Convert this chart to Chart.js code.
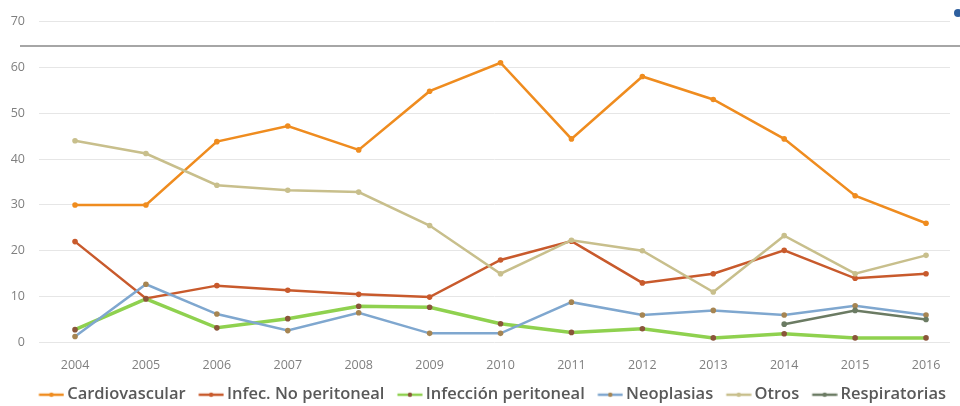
<!DOCTYPE html>
<html>
<head>
<meta charset="utf-8">
<script src="https://cdn.jsdelivr.net/npm/chart.js@4"></script>
<style>
	html, body { margin: 0; padding: 0; background: #fff; }
	#wrap { position: relative; width: 960px; height: 406px; overflow: hidden; }
	#chart { display: block; }
	#rule { position: absolute; left: 20px; width: 940px; top: 45px; border-top: 2px solid #a6a6a6; }
	#dot { position: absolute; left: 954px; top: 9px; width: 8px; height: 8px; border-radius: 50%; background: #2e5f9e; }
</style>
</head>
<body>
<div id="wrap">
	<canvas id="chart" width="960" height="406"></canvas>
	<div id="rule"></div>
	<div id="dot"></div>
</div>
<script>
const years = [2004, 2005, 2006, 2007, 2008, 2009, 2010, 2011, 2012, 2013, 2014, 2015, 2016];
const yTicks = [0, 10, 20, 30, 40, 50, 60, 70];

const seriesNames = ['Cardiovascular', 'Infec. No peritoneal', 'Infección peritoneal', 'Neoplasias', 'Otros', 'Respiratorias'];
const cardiovascular = [30, 30, 43.8, 47.2, 42, 54.8, 61, 44.4, 58, 53, 44.4, 32, 26];
const infecNoPeritoneal = [22, 9.6, 12.4, 11.4, 10.5, 9.9, 18, 22.1, 13, 15, 20.1, 14, 15];
const infeccionPeritoneal = [2.8, 9.5, 3.2, 5.2, 7.9, 7.7, 4.1, 2.2, 3, 1, 1.9, 1, 1];
const neoplasias = [1.3, 12.7, 6.2, 2.6, 6.5, 2, 2, 8.8, 6, 7, 6, 8, 6];
const otros = [44, 41.2, 34.3, 33.2, 32.8, 25.5, 15, 22.3, 20, 11, 23.3, 15, 19];
const respiratorias = [null, null, null, null, null, null, null, null, null, null, 4, 7, 5];

const allSeries = [cardiovascular, infecNoPeritoneal, infeccionPeritoneal, neoplasias, otros, respiratorias];
const lineColors = ['#ef8c1f', '#c85a2c', '#8fd14f', '#7fa7cf', '#c8bf8c', '#6b7b63'];
const dotColors = ['#ef8c1f', '#c85a2c', '#8a553a', '#a68552', '#c8bf8c', '#6b7b63'];
const lineWidths = [2.5, 2.5, 3.5, 2.5, 2.5, 2.5];

// legend marker: short line with a dot, with a blank gap on its left
// (the gap stands in for the spacing between legend items)
function legendIcon(lineColor, dotColor) {
	let c = document.createElement('canvas');
	c.width = 40;
	c.height = 8;
	let ctx = c.getContext('2d');
	ctx.strokeStyle = lineColor;
	ctx.lineWidth = 2.5;
	ctx.beginPath();
	ctx.moveTo(14.5, 4);
	ctx.lineTo(39.5, 4);
	ctx.stroke();
	ctx.fillStyle = dotColor;
	ctx.beginPath();
	ctx.arc(27, 4, 2.2, 0, Math.PI * 2);
	ctx.fill();
	return c;
}
const icons = lineColors.map((c, i) => legendIcon(c, dotColors[i]));

const datasets = allSeries.map((values, i) => ({
	label: seriesNames[i],
	data: values.map((v, j) => ({x: years[j], y: v})),
	borderColor: lineColors[i],
	backgroundColor: dotColors[i],
	pointBackgroundColor: dotColors[i],
	pointBorderColor: dotColors[i],
	borderWidth: lineWidths[i],
	pointRadius: 2.8,
	pointBorderWidth: 0,
	tension: 0,
	fill: false,
	spanGaps: false,
	// later series drawn on top, like the original
	order: allSeries.length - 1 - i,
}));

Chart.defaults.font.family = "'Open Sans', 'DejaVu Sans', sans-serif";

new Chart(document.getElementById('chart').getContext('2d'), {
	type: 'line',
	data: {datasets: datasets},
	options: {
		responsive: false,
		devicePixelRatio: 1,
		animation: false,
		layout: {padding: {top: 16, right: 10, left: 0, bottom: -7}},
		plugins: {
			tooltip: {enabled: false},
			legend: {
				position: 'bottom',
				align: 'end',
				labels: {
					usePointStyle: true,
					pointStyleWidth: 29,
					padding: 4,
					color: '#595959',
					font: {size: 16.5, weight: '600'},
					generateLabels: function(chart) {
						let items = Chart.defaults.plugins.legend.labels.generateLabels(chart);
						items.sort((a, b) => a.datasetIndex - b.datasetIndex);
						items.forEach((it) => { it.pointStyle = icons[it.datasetIndex]; });
						return items;
					},
				},
			},
		},
		scales: {
			x: {
				type: 'linear',
				min: 2003.492,
				max: 2016.338,
				grid: {display: false},
				border: {display: false},
				afterBuildTicks: function(scale) {
					scale.ticks = years.map(v => ({value: v}));
				},
				afterFit: function(scale) {
					scale.height = 40;
				},
				ticks: {
					color: '#7f7f7f',
					font: {size: 12.5},
					padding: 7,
					maxRotation: 0,
					autoSkip: false,
					callback: v => String(v),
				},
			},
			y: {
				min: 0,
				max: 70,
				afterBuildTicks: function(scale) {
					scale.ticks = yTicks.map(v => ({value: v}));
				},
				afterFit: function(scale) {
					scale.width = 39;
				},
				grid: {color: '#e6e6e6', drawTicks: false, lineWidth: 1},
				border: {display: false},
				ticks: {
					color: '#7f7f7f',
					font: {size: 12.5},
					padding: 14,
				},
			},
		},
	},
});
</script>
</body>
</html>
